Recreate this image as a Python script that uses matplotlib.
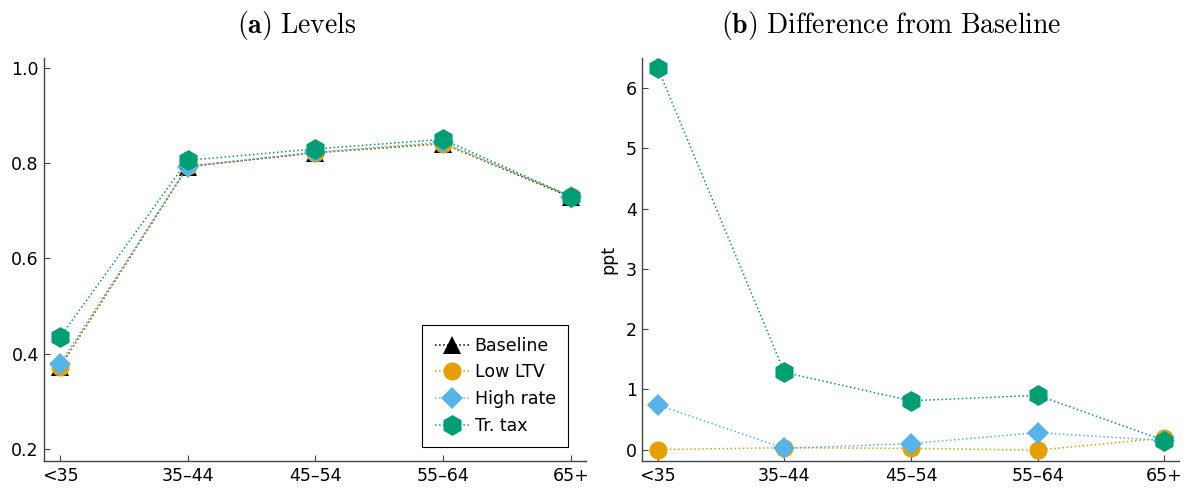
import numpy as np
import matplotlib.pyplot as plt

plt.rcParams['font.family'] = 'DejaVu Sans'
plt.rcParams['mathtext.fontset'] = 'cm'

# age groups
ages = ['<35', '35–44', '45–54', '55–64', '65+']

# (a) levels
base_lvl = [0.372, 0.793, 0.822, 0.841, 0.729]
ltv_lvl = [0.372, 0.794, 0.822, 0.841, 0.731]
rate_lvl = [0.379, 0.793, 0.823, 0.844, 0.730]
tax_lvl = [0.435, 0.806, 0.830, 0.850, 0.730]

# (b) difference from baseline, ppt
ltv_diff = [0.00, 0.03, 0.02, -0.01, 0.19]
rate_diff = [0.74, 0.02, 0.10, 0.28, 0.15]
tax_diff = [6.33, 1.28, 0.81, 0.90, 0.15]

names = ['Baseline', 'Low LTV', 'High rate', 'Tr. tax']
colors = ['black', '#E69F00', '#56B4E9', '#009E73']
markers = ['^', 'o', 'D', 'h']
msizes = [13, 13, 11, 15]

x = np.arange(len(ages))

fig = plt.figure(figsize=(11.89, 4.91), dpi=100)
ax1 = fig.add_axes([0.0373, 0.0611, 0.4553, 0.821])
ax2 = fig.add_axes([0.5402, 0.0611, 0.4514, 0.821])

for vals, nm, c, m, s in zip([base_lvl, ltv_lvl, rate_lvl, tax_lvl], names, colors, markers, msizes):
    ax1.plot(x, vals, linestyle=':', lw=1.1, color=c, marker=m, markersize=s,
             markeredgewidth=0, label=nm)

for vals, c, m, s in zip([ltv_diff, rate_diff, tax_diff], colors[1:], markers[1:], msizes[1:]):
    ax2.plot(x, vals, linestyle=':', lw=1.1, color=c, marker=m, markersize=s,
             markeredgewidth=0)

ax1.set_xlim(-0.123, 4.117)
ax1.set_ylim(0.175, 1.021)
ax1.set_yticks([0.2, 0.4, 0.6, 0.8, 1.0])
ax2.set_xlim(-0.122, 4.116)
ax2.set_ylim(-0.19, 6.5)
ax2.set_yticks([0, 1, 2, 3, 4, 5, 6])
ax2.set_ylabel('ppt', fontsize=12.5, labelpad=6)

for ax in [ax1, ax2]:
    ax.set_xticks(x)
    ax.set_xticklabels(ages)
    for sp in ['top', 'right']:
        ax.spines[sp].set_visible(False)
    for sp in ['left', 'bottom']:
        ax.spines[sp].set_color('#444444')
        ax.spines[sp].set_linewidth(1.0)
    ax.tick_params(direction='in', length=4, width=0.8, color='#444444',
                   labelsize=12.5, pad=4)

ax1.set_title(r'$\mathbf{(a)}\ \mathrm{Levels}$', fontsize=20, pad=18, x=0.467)
ax2.set_title(r'$\mathbf{(b)}\ \mathrm{Difference\ from\ Baseline}$', fontsize=20,
              pad=18, x=0.463)

leg = ax1.legend(loc='lower right', bbox_to_anchor=(0.967, 0.035), borderaxespad=0,
                 fontsize=12.5, frameon=True, fancybox=False, edgecolor='black',
                 framealpha=1, handlelength=2.0, handletextpad=0.3, borderpad=0.7,
                 labelspacing=0.5)
leg.get_frame().set_linewidth(0.8)

fig.savefig('out.png', dpi=100)
